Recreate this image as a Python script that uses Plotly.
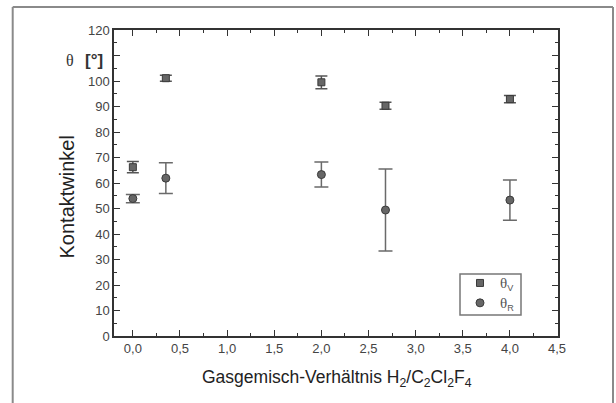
import plotly.graph_objects as go

# ---- data ----
ratio = [0.0, 0.35, 2.0, 2.68, 4.0]
theta_v = [66.2, 101.1, 99.5, 90.3, 92.9]
theta_v_err = [2.2, 1.2, 2.5, 1.4, 1.4]
theta_r = [53.9, 61.9, 63.3, 49.4, 53.3]
theta_r_err = [1.6, 6.0, 4.9, 16.1, 7.9]

x_ticks = [0.0, 0.5, 1.0, 1.5, 2.0, 2.5, 3.0, 3.5, 4.0, 4.5]
x_tick_labels = ["0,0", "0,5", "1,0", "1,5", "2,0", "2,5", "3,0", "3,5", "4,0", "4,5"]
y_ticks = [0, 10, 20, 30, 40, 50, 60, 70, 80, 90, 100, 110, 120]
y_tick_labels = ["0", "10", "20", "30", "40", "50", "60", "70", "80", "90", "100", "", "120"]

W, H = 616, 403
L, R, T, B = 114, 58, 30, 67
pw, ph = W - L - R, H - T - B

def px_x(p):
    return (p - L) / pw

def px_y(p):
    return (H - B - p) / ph

SERIF = "Liberation Serif"
SANS = "Liberation Sans, Arial"

fig = go.Figure()
fig.add_trace(go.Scatter(
    x=ratio, y=theta_v, mode="markers",
    name='<span style="font-family:Liberation Serif;font-size:15px">θ</span><sub>V</sub>',
    marker=dict(symbol="square", size=7, color="#666666",
                line=dict(color="#3a3a3a", width=1)),
    error_y=dict(type="data", array=theta_v_err, visible=True,
                 color="#555555", thickness=1.5, width=6),
))
fig.add_trace(go.Scatter(
    x=ratio, y=theta_r, mode="markers",
    name='<span style="font-family:Liberation Serif;font-size:15px">θ</span><sub>R</sub>',
    marker=dict(symbol="circle", size=8, color="#666666",
                line=dict(color="#3a3a3a", width=1)),
    error_y=dict(type="data", array=theta_r_err, visible=True,
                 color="#6a6a6a", thickness=1.5, width=7),
))

axis_common = dict(
    showline=True, linecolor="#333333", linewidth=1.5, mirror="ticks",
    ticks="inside", ticklen=6, tickwidth=1.3, tickcolor="#333333",
    showgrid=False, zeroline=False,
    tickfont=dict(family=SANS, size=13, color="#444444"),
)

fig.update_xaxes(
    range=[-0.2, 4.51], tickvals=x_ticks, ticktext=x_tick_labels,
    minor=dict(dtick=0.25, ticklen=3, tickwidth=1.2, tickcolor="#333333", ticks="inside"),
    **axis_common,
)
fig.update_yaxes(
    range=[0, 120], tickvals=y_ticks, ticktext=y_tick_labels,
    minor=dict(dtick=5, ticklen=3, tickwidth=1.2, tickcolor="#333333", ticks="inside"),
    **axis_common,
)

frame = dict(color="#8a8a8a", width=2)
fig.update_layout(
    width=W, height=H,
    margin=dict(l=L, r=R, t=T, b=B),
    paper_bgcolor="white", plot_bgcolor="white",
    showlegend=True,
    legend=dict(
        x=px_x(460), y=px_y(268), xanchor="left", yanchor="top",
        borderwidth=0, bgcolor="rgba(0,0,0,0)",
        font=dict(family=SANS, size=13, color="#555555"),
        tracegroupgap=0, itemwidth=30,
    ),
    shapes=[
        dict(type="line", xref="paper", yref="paper",
             x0=px_x(12.7), x1=px_x(12.7), y0=px_y(7), y1=px_y(410), line=frame),
        dict(type="line", xref="paper", yref="paper",
             x0=px_x(12.7), x1=px_x(613), y0=px_y(7), y1=px_y(7), line=frame),
        dict(type="line", xref="paper", yref="paper",
             x0=px_x(613), x1=px_x(613), y0=px_y(7), y1=px_y(410), line=frame),
        # legend frame
        dict(type="rect", xref="paper", yref="paper",
             x0=px_x(460), x1=px_x(521), y0=px_y(274), y1=px_y(315),
             line=dict(color="#777777", width=1.5), fillcolor="rgba(0,0,0,0)"),
    ],
    annotations=[
        dict(text="Gasgemisch-Verhältnis H<sub>2</sub>/C<sub>2</sub>Cl<sub>2</sub>F<sub>4</sub>",
             xref="paper", yref="paper", x=px_x(337), y=px_y(378),
             xanchor="center", yanchor="middle", showarrow=False,
             font=dict(family=SANS, size=17.5, color="#222222")),
        dict(text="Kontaktwinkel", textangle=-90,
             xref="paper", yref="paper", x=px_x(66.5), y=px_y(197),
             xanchor="center", yanchor="middle", showarrow=False,
             font=dict(family=SANS, size=20, color="#222222")),
        dict(text="θ",
             xref="paper", yref="paper", x=px_x(70), y=px_y(61),
             xanchor="center", yanchor="middle", showarrow=False,
             font=dict(family=SERIF, size=16, color="#333333")),
        dict(text="<b>[°]</b>",
             xref="paper", yref="paper", x=px_x(93.5), y=px_y(60),
             xanchor="center", yanchor="middle", showarrow=False,
             font=dict(family=SANS, size=17, color="#333333")),
    ],
)

fig.write_html("out.html", config={"displayModeBar": False},
               post_script="document.body.style.margin='0px';")
